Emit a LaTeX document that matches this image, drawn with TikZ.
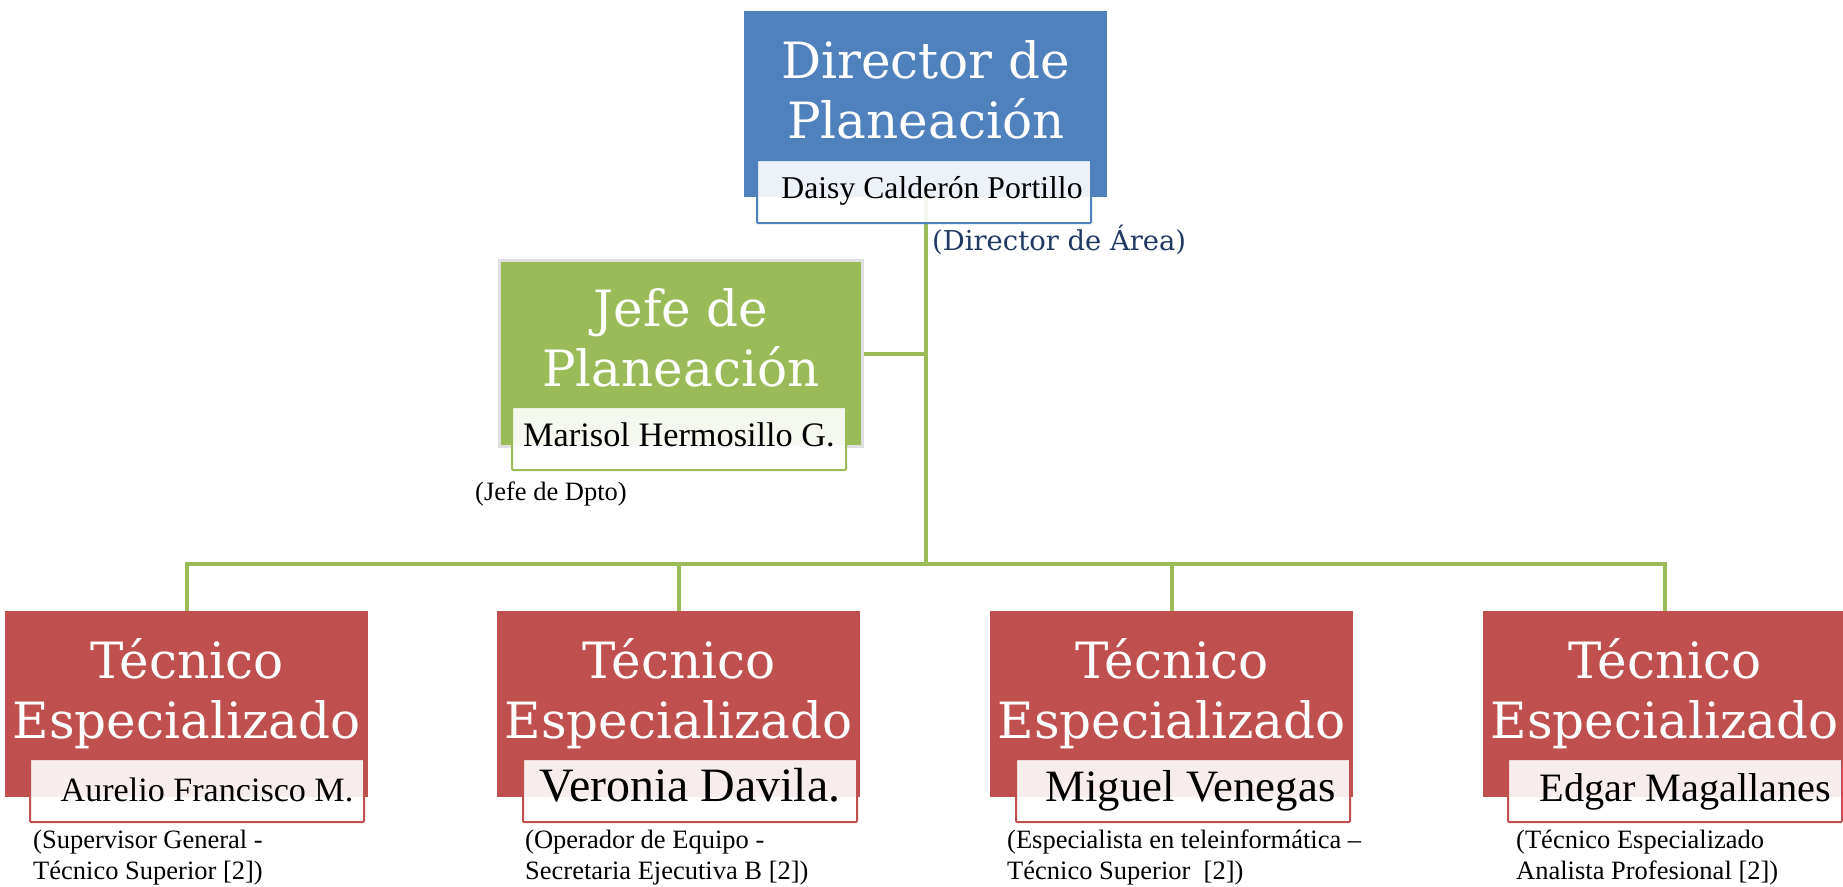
\documentclass[tikz,border=0pt]{standalone}
\usepackage{fontspec}
\setmainfont{Liberation Serif}
\newfontfamily\titfont{DejaVu Serif}
\usetikzlibrary{calc}

\definecolor{azul}{HTML}{4F81BD}
\definecolor{verde}{HTML}{9BBB59}
\definecolor{rojo}{HTML}{C0504D}
\definecolor{marino}{HTML}{1F3864}

\tikzset{
  caja/.style={rectangle,inner sep=0pt,minimum width=363pt,minimum height=186pt,anchor=north west},
  titulo/.style={text=white,inner sep=0pt,align=center,anchor=base,font={\titfont\fontsize{50}{60}\selectfont}},
  placa/.style={rectangle,fill=white,fill opacity=.9,text opacity=1,line width=2pt,rounded corners=1pt,
    inner sep=0pt,minimum width=334pt,minimum height=63pt,anchor=north west,text height=21pt,text depth=0pt},
  nota/.style={inner sep=0pt,align=left,anchor=base west,font={\fontsize{26.5}{31}\selectfont}},
  linea/.style={draw=verde,line width=4pt}
}

\begin{document}
\begin{tikzpicture}[x=1pt,y=-1pt]
\useasboundingbox (0,0) rectangle (1843,886);

\node[caja,fill=azul] (dir) at (744,11) {};
\node[caja,fill=verde,draw=black!12,line width=3pt] (jefe) at (498,259) {};
\node[caja,fill=rojo] (tec1) at (5,611) {};
\node[caja,fill=rojo] (tec2) at (497,611) {};
\node[caja,fill=rojo] (tec3) at (990,611) {};
\node[caja,fill=rojo] (tec4) at (1483,611) {};

% el ancla base cae en la ultima linea
\node[titulo] (tdir) at ($(dir.north)+(0,127)$) {Director de\\Planeación};
\node[titulo] (tjefe) at ($(jefe.north)+(0,127)$) {Jefe de\\Planeación};
\node[titulo] (ttec1) at ($(tec1.north)+(0,127)$) {Técnico\\Especializado};
\node[titulo] (ttec2) at ($(tec2.north)+(0,127)$) {Técnico\\Especializado};
\node[titulo] (ttec3) at ($(tec3.north)+(0,127)$) {Técnico\\Especializado};
\node[titulo] (ttec4) at ($(tec4.north)+(0,127)$) {Técnico\\Especializado};

% lineas de mando
\coordinate (nudo) at (dir.south |- 0,564);
\draw[linea] (dir.south) -- (nudo);
\draw[linea] (jefe.east) -- (jefe.east -| nudo);
\draw[linea] (tec1.north) |- (nudo) -| (tec4.north);
\draw[linea] (tec2.north) -- (tec2.north |- nudo);
\draw[linea] (tec3.north) -- (tec3.north |- nudo);

\node[placa,draw=azul,text height=13pt,font=\fontsize{31.7}{36}\selectfont] (pdir) at (756,159) {\hspace*{16pt}Daisy Calderón Portillo};
\node[placa,draw=verde,text height=15pt,font=\fontsize{34.3}{40}\selectfont] (pjefe) at (511,406) {Marisol Hermosillo G.};
\node[placa,draw=rojo,font=\fontsize{34.1}{40}\selectfont] (ptec1) at (29,758) {\hspace*{20pt}Aurelio Francisco M.};
\node[placa,draw=rojo,font=\fontsize{47.9}{54}\selectfont] (ptec2) at (522,758) {Veronia Davila.};
\node[placa,draw=rojo,font=\fontsize{44.8}{52}\selectfont] (ptec3) at (1015,758) {\hspace*{15pt}Miguel Venegas};
\node[placa,draw=rojo,font=\fontsize{40.3}{46}\selectfont] (ptec4) at (1507,758) {\hspace*{21pt}Edgar Magallanes};

\node[nota,text=marino,font={\titfont\fontsize{27.4}{32}\selectfont}] (cdir) at (932,250) {(Director de Área)};
\node[nota] (cjefe) at (475,500) {(Jefe de Dpto)};
\node[nota] (ctec1) at (33,879) {(Supervisor General -\\Técnico Superior [2])};
\node[nota] (ctec2) at (525,879) {(Operador de Equipo -\\Secretaria Ejecutiva B [2])};
\node[nota] (ctec3) at (1007,879) {(Especialista en teleinformática –\\Técnico Superior~~[2])};
\node[nota] (ctec4) at (1516,879) {(Técnico Especializado\\Analista Profesional [2])};
\end{tikzpicture}
\end{document}
